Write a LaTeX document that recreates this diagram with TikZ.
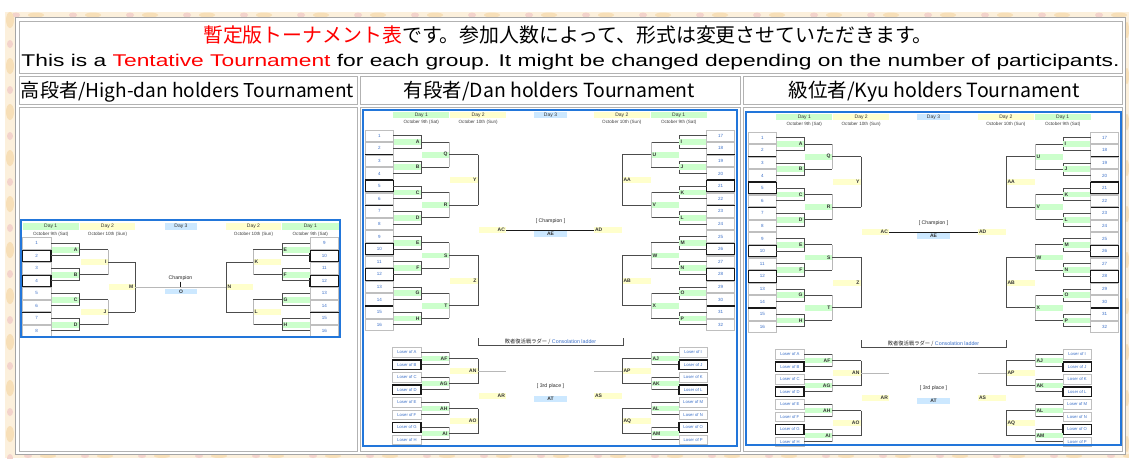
\documentclass[tikz,border=0pt]{standalone}
\usepackage{fontspec}
\setmainfont{Liberation Sans}
\newfontfamily\jpf{Noto Sans CJK JP}
\usepackage{graphicx}
\definecolor{gfill}{HTML}{CCFFCC}
\definecolor{yfill}{HTML}{FFFFCC}
\definecolor{bfill}{HTML}{CCE8FF}
\definecolor{frameblue}{HTML}{2276DA}
\definecolor{bgbeige}{HTML}{FCF0DC}
\definecolor{flowp}{HTML}{F3D3CC}
\definecolor{flowo}{HTML}{F7DFB8}
\definecolor{numblue}{HTML}{3A6FC8}
\tikzset{
  ln/.style={draw=black!70, line width=0.8pt},
  lnl/.style={draw=black!28, line width=0.7pt},
  lnk/.style={draw=black!90, line width=1.1pt},
  cellb/.style={draw=black!25, line width=0.5pt},
  cell/.style={fill=white, draw=black!30, line width=1pt},
  daytx/.style={font=\fontsize{5}{5.5}\selectfont, inner sep=0pt, text=black!80},
  subtx/.style={font=\fontsize{4.6}{5}\selectfont, inner sep=0pt, text=black!75},
  numtx/.style={font=\fontsize{4.5}{5}\selectfont, inner sep=0pt, text=numblue},
  lbl/.style={font=\fontsize{5}{5.5}\selectfont\bfseries, inner sep=0.4pt, text=black!80},
  losetx/.style={font=\fontsize{4.2}{4.6}\selectfont, inner sep=0pt, text=numblue},
  champ/.style={font=\fontsize{5.2}{6}\selectfont, inner sep=0pt, text=black!85},
  constx/.style={font=\fontsize{5.3}{6}\selectfont, inner sep=0pt, text=black!85},
}
\newcommand\bigHalf{%
  \fill[gfill] (30.3,1.5) rectangle (86.3,8);
  \fill[yfill] (87.3,1.5) rectangle (143,8);
  \node[daytx] (\pfx-d1) at (58.3,4.8) {Day 1};
  \node[daytx] (\pfx-d2) at (115.2,4.8) {Day 2};
  \node[subtx] (\pfx-s1) at (58.3,12.3) {\subA};
  \node[subtx] (\pfx-s2) at (115.2,12.3) {\subB};
  \foreach \i in {1,...,16}{%
    \pgfmathsetmacro\yy{25.7+12.6*(\i-1)}%
    \pgfmathtruncatemacro\nn{\i+\pstart}%
    \draw[cellb] (2.3,\yy-5.8) rectangle (30.3,\yy+5.8);
    \node[numtx] (\pfx-p\nn) at (16.3,\yy) {\nn};
  }%
  \foreach \i in {2,4,14}{\draw[lnk] (2.3,{25.7+12.6*(\i-1)+5.8}) -- (30.3,{25.7+12.6*(\i-1)+5.8});}%
  \foreach \i in {5,10,12}{\draw[lnk] (2.3,{25.7+12.6*(\i-1)-5.8}) rectangle (30.3,{25.7+12.6*(\i-1)+5.8});}%
  \foreach \i in {7,15}{\draw[lnk] (2.3,{25.7+12.6*(\i-1)-5.8}) -- (30.3,{25.7+12.6*(\i-1)-5.8});}%
  \foreach \lab [count=\cc] in \rOne {%
    \pgfmathsetmacro\ya{25.7+25.2*(\cc-1)}%
    \pgfmathsetmacro\yb{\ya+12.6}%
    \pgfmathsetmacro\ym{\ya+6.3}%
    \draw[ln] (30.3,\ya) -- (58,\ya) -- (58,\yb) -- (30.3,\yb);
    \fill[gfill] (30.8,\ym-2.9) rectangle (57.6,\ym+2.9);
    \draw[ln] (58,\ym) -- (86,\ym);
    \node[lbl,anchor=\anc] (\pfx-\lab) at (57,\ym) {\lab};
  }%
  \foreach \lab [count=\cc] in \rTwo {%
    \pgfmathsetmacro\ya{32+50.4*(\cc-1)}%
    \pgfmathsetmacro\yb{\ya+25.2}%
    \pgfmathsetmacro\ym{\ya+12.6}%
    \draw[lnl] (86,\ya) -- (86,\yb);
    \fill[gfill] (58.5,\ym-2.9) rectangle (85.5,\ym+2.9);
    \node[lbl,anchor=\anc] (\pfx-\lab) at (85,\ym) {\lab};
    \draw[ln] (86,\ym) -- (115,\ym);
  }%
  \foreach \lab [count=\cc] in \rThree {%
    \pgfmathsetmacro\ya{44.6+100.8*(\cc-1)}%
    \pgfmathsetmacro\yb{\ya+50.4}%
    \pgfmathsetmacro\ym{\ya+25.2}%
    \draw[ln] (115,\ya) -- (115,\yb);
    \fill[yfill] (86.5,\ym-2.9) rectangle (114.5,\ym+2.9);
    \node[lbl,anchor=\anc] (\pfx-\lab) at (114,\ym) {\lab};
  }%
  \fill[yfill] (115.5,117.3) rectangle (143,123.1);
  \node[lbl,anchor=\anc] (\pfx-semi) at (142.5,120.2) {\semi};
  \draw[lnk] (143,120.2) -- (187.5,120.2);
  \foreach \lab [count=\cc] in \rOne {%
    \pgfmathsetmacro\yy{242.3+12.5*(\cc-1)}%
    \draw[cellb] (29.7,\yy-4.8) rectangle (58,\yy+4.8);
    \node[losetx] (\pfx-l\lab) at (43.85,\yy) {Loser of \lab};
    \draw[ln] (58,\yy) -- (86,\yy);
  }%
  \foreach \i in {2,4,7}{\draw[lnk] (29.7,{242.3+12.5*(\i-1)-4.8}) rectangle (58,{242.3+12.5*(\i-1)+4.8});}%
  \foreach \lab [count=\cc] in \cOne {%
    \pgfmathsetmacro\ya{242.3+25*(\cc-1)}%
    \pgfmathsetmacro\ym{\ya+6.25}%
    \draw[lnl] (86,\ya) -- (86,\ya+12.5);
    \fill[gfill] (58.5,\ym-2.9) rectangle (85.5,\ym+2.9);
    \node[lbl,anchor=\anc] (\pfx-\lab) at (85,\ym) {\lab};
    \draw[ln] (86,\ym) -- (115,\ym);
  }%
  \foreach \lab [count=\cc] in \cTwo {%
    \pgfmathsetmacro\ya{248.55+50*(\cc-1)}%
    \pgfmathsetmacro\yb{\ya+25}%
    \pgfmathsetmacro\ym{\ya+12.5}%
    \draw[ln] (115,\ya) -- (115,\yb);
    \fill[yfill] (86.5,\ym-2.9) rectangle (114.5,\ym+2.9);
    \node[lbl,anchor=\anc] (\pfx-\lab) at (114,\ym) {\lab};
  }%
  \draw[lnl] (115,261.05) -- (143,261.05);
  \fill[yfill] (115.5,282.9) rectangle (143,288.7);
  \node[lbl,anchor=\anc] (\pfx-csemi) at (142.5,285.8) {\csemi};
}
\newcommand\bigCenter{%
  \fill[bfill] (170.7,1.5) rectangle (204.3,8);
  \node[daytx] (\pfx-d3) at (187.5,4.8) {Day 3};
  \node[champ] (\pfx-champ) at (187.5,111.3) {[ Champion ]};
  \fill[bfill] (170.7,121) rectangle (204.3,126.6);
  \node[lbl] (\pfx-AE) at (187.5,123.8) {AE};
  \draw[ln] (115,228.2) -- (115,235.7) -- (260,235.7) -- (260,228.2);
  \node[constx] (\pfx-cons) at (187.5,231.8) {{\jpf 敗者復活戦ラダー /} \textcolor{numblue}{Consolation ladder}};
  \node[champ] (\pfx-third) at (187.5,276) {[ 3rd place ]};
  \fill[bfill] (170.7,286.3) rectangle (204.3,291.9);
  \node[lbl] (\pfx-AT) at (187.5,289.1) {AT};
  \draw[frameblue, line width=2.3pt] (0,0) rectangle (\fw,\fh);
}
\newcommand\smallHalf{%
  \fill[gfill] (1.5,3.3) rectangle (58,10);
  \fill[yfill] (59,3.3) rectangle (114,10);
  \node[daytx] (\pfx-d1) at (29.7,6.6) {Day 1};
  \node[daytx] (\pfx-d2) at (86.5,6.6) {Day 2};
  \node[subtx] (\pfx-s1) at (29.7,14) {\subA};
  \node[subtx] (\pfx-s2) at (86.5,14) {\subB};
  \foreach \i in {1,...,8}{%
    \pgfmathsetmacro\yy{23.3+12.5*(\i-1)}%
    \pgfmathtruncatemacro\nn{\i+\pstart}%
    \draw[cellb] (1.3,\yy-5.6) rectangle (30,\yy+5.6);
    \node[numtx] (\pfx-p\nn) at (15.6,\yy) {\nn};
  }%
  \foreach \i in {2,4}{\draw[lnk] (1.3,{23.3+12.5*(\i-1)-5.6}) rectangle (30,{23.3+12.5*(\i-1)+5.6});}%
  \foreach \i in {7}{\draw[lnk] (1.3,{23.3+12.5*(\i-1)-5.6}) -- (30,{23.3+12.5*(\i-1)-5.6});}%
  \foreach \lab [count=\cc] in \rOne {%
    \pgfmathsetmacro\ya{23.3+25*(\cc-1)}%
    \pgfmathsetmacro\yb{\ya+12.5}%
    \pgfmathsetmacro\ym{\ya+6.25}%
    \draw[ln] (30,\ya) -- (58,\ya) -- (58,\yb) -- (30,\yb);
    \fill[gfill] (30.5,\ym-3) rectangle (57.5,\ym+3);
    \draw[ln] (58,\ym) -- (87,\ym);
    \node[lbl,anchor=\anc] (\pfx-\lab) at (57,\ym) {\lab};
  }%
  \foreach \lab [count=\cc] in \rTwo {%
    \pgfmathsetmacro\ya{29.55+50*(\cc-1)}%
    \pgfmathsetmacro\yb{\ya+25}%
    \pgfmathsetmacro\ym{\ya+12.5}%
    \draw[lnl] (87,\ya) -- (87,\yb);
    \fill[yfill] (59.5,\ym-3) rectangle (86.5,\ym+3);
    \node[lbl,anchor=\anc] (\pfx-\lab) at (86,\ym) {\lab};
    \draw[ln] (87,\ym) -- (114,\ym);
  }%
  \draw[ln] (114,42.05) -- (114,92.05);
  \fill[yfill] (87.5,64.05) rectangle (113.5,70.05);
  \node[lbl,anchor=\anc] (\pfx-semi) at (113,67.05) {\semi};
  \draw[lnl] (114,67.05) -- (159.5,67.05);
}
\begin{document}
\begin{tikzpicture}[x=1pt,y=-1pt]
\useasboundingbox (0,0) rectangle (1129,458);
\fill[white] (0,0) rectangle (1129,458);
\fill[bgbeige] (5,12) rectangle (1129,458);
\foreach \x in {6,63,...,1129}{%
  \fill[flowp] (\x+10,15) ellipse (4 and 2.5);
  \fill[flowo] (\x+30,15) ellipse (8 and 2.5);
  \fill[flowp] (\x+22,456) ellipse (4 and 2);
  \fill[flowo] (\x+42,456) ellipse (8 and 2);
}
\foreach \y in {20,66,...,458}{%
  \fill[flowo] (10,\y) ellipse (4 and 8);
  \fill[flowp] (10,\y+24) ellipse (3 and 4);
  \fill[flowo] (1127,\y+10) ellipse (2 and 8);
}
\filldraw[fill=white, draw=black!35, line width=0.8pt] (15.5,17.5) rectangle (1125.5,454.5);
\draw[cell] (19,21) rectangle (1122,73);
\draw[cell] (19,76) rectangle (357,104);
\draw[cell] (360,76) rectangle (740,104);
\draw[cell] (743,76) rectangle (1122,104);
\draw[cell] (19,107) rectangle (357,451);
\draw[cell] (360,107) rectangle (740,451);
\draw[cell] (743,107) rectangle (1122,451);
\node[anchor=base, inner sep=0] (t1) at (568,42) {\fontsize{19.9}{22}\jpf\textcolor{red}{暫定版トーナメント表}です。参加人数によって、形式は変更させていただきます。};
\node[anchor=base, inner sep=0] (t2) at (570.5,66.3) {\resizebox{1098pt}{12.3pt}{This is a \textcolor{red}{Tentative Tournament} for each group. It might be changed depending on the number of participants.}};
\node[anchor=base, inner sep=0] (h1) at (187.5,97.8) {\resizebox{333pt}{!}{\fontsize{17}{17}\jpf 高段者/High-dan holders Tournament}};
\node[anchor=base, inner sep=0] (h2) at (549.5,97.8) {\resizebox{291pt}{!}{\fontsize{17}{17}\jpf 有段者/Dan holders Tournament}};
\node[anchor=base, inner sep=0] (h3) at (934,97.8) {\resizebox{291pt}{!}{\fontsize{17}{17}\jpf 級位者/Kyu holders Tournament}};
% small bracket
\begin{scope}[shift={(21,220)}]
  \def\pfx{sL}\def\anc{east}\def\pstart{0}
  \def\rOne{A,B,C,D}\def\rTwo{I,J}\def\semi{M}
  \def\subA{October 9th (Sat)}\def\subB{October 10th (Sun)}
  \smallHalf
\end{scope}
\begin{scope}[shift={(340,220)}, xscale=-1]
  \def\pfx{sR}\def\anc{west}\def\pstart{8}
  \def\rOne{E,F,G,H}\def\rTwo{K,L}\def\semi{N}
  \def\subA{October 9th (Sat)}\def\subB{October 10th (Sun)}
  \smallHalf
\end{scope}
\begin{scope}[shift={(21,220)}]
  \fill[bfill] (144,3.3) rectangle (176,10);
  \node[daytx] (sC-d3) at (160,6.6) {Day 3};
  \node[champ] (sC-champ) at (159.5,58.3) {Champion};
  \draw[lnk] (159.5,61.5) -- (159.5,67.05);
  \fill[bfill] (144,69) rectangle (176,74.3);
  \node[lbl] (sC-O) at (160,71.65) {O};
  \draw[frameblue, line width=2.2pt] (0,0) rectangle (319,117);
\end{scope}
% middle bracket
\begin{scope}[shift={(363,110)}]
  \def\pfx{mL}\def\anc{east}\def\pstart{0}
  \def\rOne{A,B,C,D,E,F,G,H}\def\rTwo{Q,R,S,T}\def\rThree{Y,Z}\def\semi{AC}
  \def\cOne{AF,AG,AH,AI}\def\cTwo{AN,AO}\def\csemi{AR}
  \def\subA{October 9th (Sat)}\def\subB{October 10th (Sun)}
  \bigHalf
\end{scope}
\begin{scope}[shift={(737,110)}, xscale=-1]
  \def\pfx{mR}\def\anc{west}\def\pstart{16}
  \def\rOne{I,J,K,L,M,N,O,P}\def\rTwo{U,V,W,X}\def\rThree{AA,AB}\def\semi{AD}
  \def\cOne{AJ,AK,AL,AM}\def\cTwo{AP,AQ}\def\csemi{AS}
  \def\subA{October 9th (Sat)}\def\subB{October 10th (Sun)}
  \bigHalf
\end{scope}
\begin{scope}[shift={(363,110)}]
  \def\pfx{mC}\def\fw{374}\def\fh{336}
  \bigCenter
\end{scope}
% right bracket
\begin{scope}[shift={(746,112)}]
  \def\pfx{kL}\def\anc{east}\def\pstart{0}
  \def\rOne{A,B,C,D,E,F,G,H}\def\rTwo{Q,R,S,T}\def\rThree{Y,Z}\def\semi{AC}
  \def\cOne{AF,AG,AH,AI}\def\cTwo{AN,AO}\def\csemi{AR}
  \def\subA{October 9th (Sat)}\def\subB{October 10th (Sun)}
  \bigHalf
\end{scope}
\begin{scope}[shift={(1121,112)}, xscale=-1]
  \def\pfx{kR}\def\anc{west}\def\pstart{16}
  \def\rOne{I,J,K,L,M,N,O,P}\def\rTwo{U,V,W,X}\def\rThree{AA,AB}\def\semi{AD}
  \def\cOne{AJ,AK,AL,AM}\def\cTwo{AP,AQ}\def\csemi{AS}
  \def\subA{October 9th (Sat)}\def\subB{October 10th (Sun)}
  \bigHalf
\end{scope}
\begin{scope}[shift={(746,112)}]
  \def\pfx{kC}\def\fw{375}\def\fh{333}
  \bigCenter
\end{scope}
\end{tikzpicture}
\end{document}
